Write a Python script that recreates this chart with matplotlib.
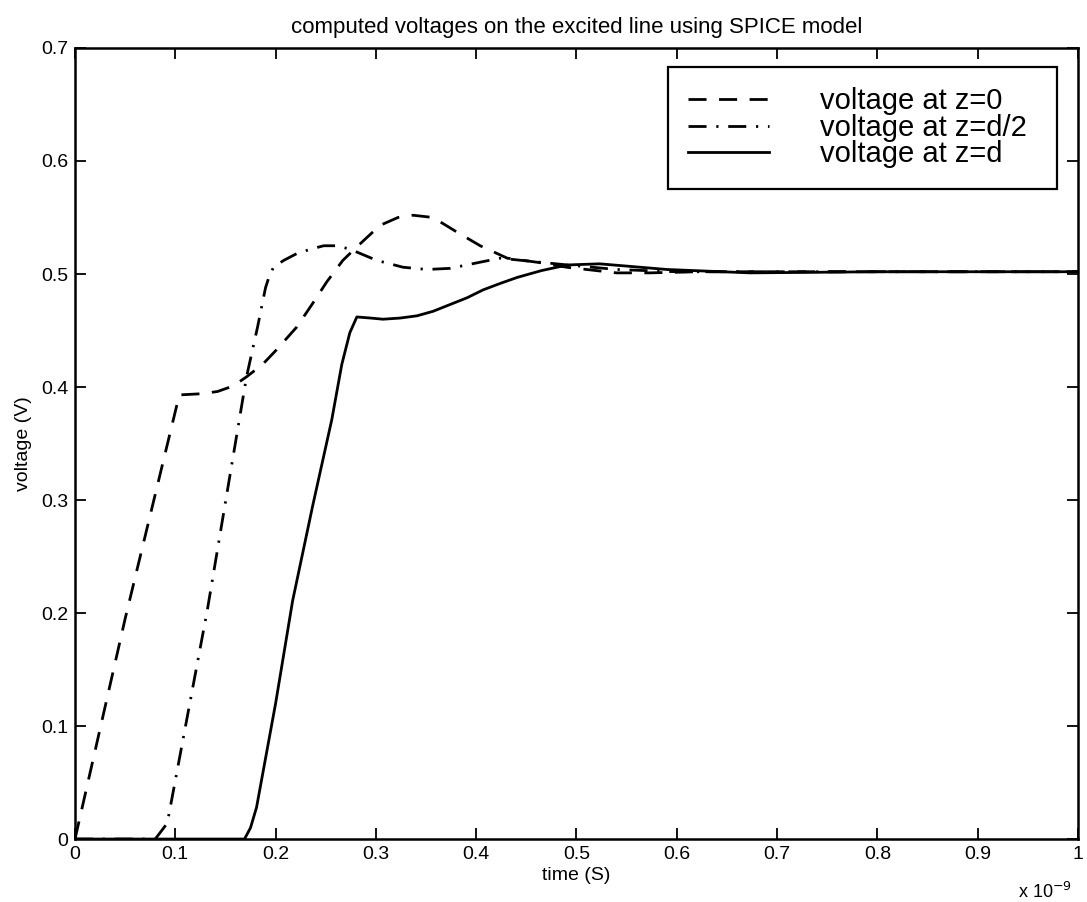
import matplotlib
matplotlib.use("Agg")
import matplotlib.pyplot as plt
from matplotlib import font_manager

# ---- data (time in units of 1e-9 s, voltage in V) ----
t_z0 = [0, 0.05, 0.104, 0.125, 0.142, 0.158, 0.171, 0.187, 0.201, 0.221, 0.237, 0.251,
        0.267, 0.281, 0.304, 0.322, 0.337, 0.357, 0.381, 0.404, 0.431, 0.464, 0.49,
        0.54, 0.573, 0.62, 0.7, 0.8, 0.9, 1.0]
v_z0 = [0, 0.195, 0.393, 0.394, 0.396, 0.401, 0.409, 0.42, 0.433, 0.453, 0.474, 0.493,
        0.512, 0.524, 0.543, 0.55, 0.552, 0.550, 0.537, 0.525, 0.514, 0.510, 0.506,
        0.501, 0.501, 0.502, 0.502, 0.502, 0.502, 0.502]

t_zd2 = [0, 0.08, 0.092, 0.132, 0.171, 0.177, 0.182, 0.187, 0.190, 0.194, 0.198, 0.208, 0.221,
         0.235, 0.248, 0.261, 0.274, 0.301, 0.327, 0.351, 0.374, 0.407, 0.424, 0.457,
         0.491, 0.54, 0.6, 0.7, 0.8, 0.9, 1.0]
v_zd2 = [0, 0, 0.014, 0.203, 0.409, 0.433, 0.453, 0.475, 0.488, 0.499, 0.506, 0.512, 0.518,
         0.522, 0.525, 0.525, 0.522, 0.512, 0.506, 0.504, 0.505, 0.511, 0.514, 0.511,
         0.508, 0.504, 0.502, 0.502, 0.502, 0.502, 0.502]

t_zd = [0, 0.169, 0.175, 0.181, 0.2, 0.217, 0.237, 0.256, 0.266, 0.274, 0.281, 0.295, 0.307,
        0.324, 0.341, 0.357, 0.374, 0.391, 0.407, 0.425, 0.441, 0.465, 0.491, 0.523, 0.55,
        0.59, 0.673, 0.8, 0.9, 1.0]
v_zd = [0, 0, 0.01, 0.028, 0.12, 0.211, 0.295, 0.371, 0.42, 0.448, 0.462, 0.461, 0.460,
        0.461, 0.463, 0.467, 0.473, 0.479, 0.486, 0.492, 0.497, 0.503, 0.508, 0.509, 0.507,
        0.504, 0.501, 0.502, 0.502, 0.502]

labels = ["voltage at z=0", "voltage at z=d/2", "voltage at z=d"]
x_ticks = [0, 0.1, 0.2, 0.3, 0.4, 0.5, 0.6, 0.7, 0.8, 0.9, 1]
x_ticklabels = ["0", "0.1", "0.2", "0.3", "0.4", "0.5", "0.6", "0.7", "0.8", "0.9", "1"]
y_ticks = [0, 0.1, 0.2, 0.3, 0.4, 0.5, 0.6, 0.7]
y_ticklabels = ["0", "0.1", "0.2", "0.3", "0.4", "0.5", "0.6", "0.7"]

names = {f.name for f in font_manager.fontManager.ttflist}
narrow = "Liberation Sans Narrow" if "Liberation Sans Narrow" in names else "Liberation Sans"
plt.rcParams['font.family'] = ['Liberation Sans', 'DejaVu Sans']

fig = plt.figure(figsize=(10.87, 9.02), dpi=100)
ax = fig.add_axes([0.069, 0.0698, 0.9227, 0.877])

lw = 2.0
ax.plot(t_z0, v_z0, color='black', lw=lw, linestyle=(0, (6.5, 4.5)), label=labels[0])
ax.plot(t_zd2, v_zd2, color='black', lw=lw, linestyle=(0, (6.5, 3.5, 0.8, 3.5)), label=labels[1])
ax.plot(t_zd, v_zd, color='black', lw=lw, linestyle='-', label=labels[2])

ax.set_xlim(0, 1)
ax.set_ylim(0, 0.7)
ax.set_xticks(x_ticks)
ax.set_xticklabels(x_ticklabels, family=narrow, fontsize=14)
ax.set_yticks(y_ticks)
ax.set_yticklabels(y_ticklabels, fontsize=14)
ax.tick_params(direction='in', length=8, width=1.3, top=True, right=True, pad=5)
for s in ax.spines.values():
    s.set_linewidth(1.8)

ax.set_title("computed voltages on the excited line using SPICE model",
             family=narrow, fontsize=16, pad=11)
ax.set_xlabel("time (S)", family=narrow, fontsize=14, labelpad=3)
ax.set_ylabel("voltage (V)", family=narrow, fontsize=14, labelpad=6)
fig.text(0.986, 0.004, r"x 10$^{-9}$", family=narrow, fontsize=13, ha='right')

leg = ax.legend(loc='upper left', bbox_to_anchor=(0.5912, 0.5, 0.3879, 0.476),
                mode='expand', fontsize=21,
                frameon=True, fancybox=False, framealpha=1, edgecolor='black',
                handlelength=2.75, handletextpad=1.75, labelspacing=-0.05,
                borderpad=0.7, borderaxespad=0)
leg.get_frame().set_linewidth(1.6)

fig.savefig("out.png", dpi=100, facecolor='white')
